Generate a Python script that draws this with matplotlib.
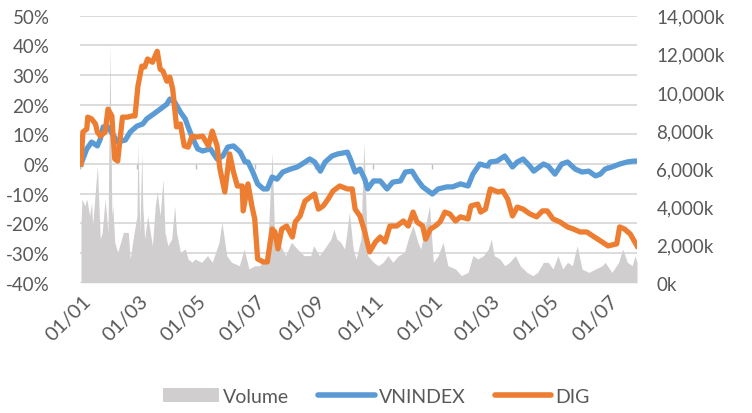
import matplotlib
matplotlib.use("Agg")
import matplotlib.pyplot as plt
import matplotlib.dates as mdates
from matplotlib.lines import Line2D
from matplotlib.patches import Patch
from matplotlib.ticker import FuncFormatter, MultipleLocator
from matplotlib.transforms import ScaledTranslation
import pandas as pd

plt.rcParams["font.family"] = ["Lato", "DejaVu Sans"]

TEXT = "#595959"
GRID = "#D9D9D9"
BLUE = "#5B9BD5"
ORANGE = "#ED7D31"
VOLGREY = "#D0CECE"
FS = 13.5

# VNINDEX, % change since start
vn_dates = [
    "2018-01-02", "2018-01-08", "2018-01-13", "2018-01-19", "2018-01-22", "2018-01-25",
    "2018-01-30", "2018-02-09", "2018-02-17", "2018-02-22", "2018-03-01", "2018-03-07",
    "2018-03-11", "2018-03-18", "2018-03-25", "2018-04-01", "2018-04-04", "2018-04-09",
    "2018-04-15", "2018-04-20", "2018-04-23", "2018-04-28", "2018-05-03", "2018-05-08",
    "2018-05-16", "2018-05-23", "2018-05-29", "2018-06-03", "2018-06-09", "2018-06-16",
    "2018-06-21", "2018-06-24", "2018-06-29", "2018-07-04", "2018-07-10", "2018-07-14",
    "2018-07-19", "2018-07-24", "2018-07-30", "2018-08-07", "2018-08-14", "2018-08-19",
    "2018-08-27", "2018-09-01", "2018-09-07", "2018-09-12", "2018-09-19", "2018-09-25",
    "2018-10-05", "2018-10-08", "2018-10-13", "2018-10-18", "2018-10-23", "2018-10-26",
    "2018-11-01", "2018-11-08", "2018-11-15", "2018-11-21", "2018-11-29", "2018-12-04",
    "2018-12-11", "2018-12-16", "2018-12-22", "2019-01-01", "2019-01-07", "2019-01-16",
    "2019-01-22", "2019-01-30", "2019-02-07", "2019-02-12", "2019-02-19", "2019-02-27",
    "2019-03-02", "2019-03-09", "2019-03-17", "2019-03-25", "2019-03-30", "2019-04-05",
    "2019-04-12", "2019-04-16", "2019-04-26", "2019-05-01", "2019-05-08", "2019-05-15",
    "2019-05-21", "2019-05-29", "2019-06-05", "2019-06-12", "2019-06-19", "2019-06-24",
    "2019-06-29", "2019-07-06", "2019-07-14", "2019-07-22", "2019-07-29", "2019-08-01",
]
vn_pct = [
    0.0, 5.1, 7.4, 6.1, 8.4, 12.5,
    12.5, 7.4, 8.1, 10.8, 12.8, 13.5,
    15.2, 16.8, 18.5, 20.2, 21.9, 20.9,
    17.5, 15.2, 12.5, 8.4, 5.1, 4.4,
    5.1, 1.7, 2.7, 5.7, 6.1, 4.0,
    0.7, 0.7, -2.7, -6.7, -8.4, -8.4,
    -4.4, -5.1, -2.7, -1.7, -1.0, 0.0,
    1.7, 0.7, -2.4, 0.7, 2.7, 3.4,
    4.0, 1.7, -2.7, -1.7, -5.1, -8.4,
    -5.7, -5.7, -8.4, -6.1, -5.7, -2.7,
    -2.4, -5.1, -7.7, -10.1, -8.4, -7.7,
    -7.7, -6.7, -7.4, -3.4, 0.0, -0.7,
    0.7, 1.0, 2.7, -1.0, 0.7, 1.7,
    -0.7, -2.4, 0.0, -0.7, -3.4, 0.0,
    0.7, -1.7, -2.7, -2.4, -4.0, -3.4,
    -1.7, -1.0, 0.0, 0.7, 1.0, 1.0,
]

# DIG, % change since start
dig_dates = [
    "2018-01-02", "2018-01-04", "2018-01-08", "2018-01-09", "2018-01-13", "2018-01-17",
    "2018-01-19", "2018-01-22", "2018-01-27", "2018-01-30", "2018-02-03", "2018-02-04",
    "2018-02-06", "2018-02-09", "2018-02-14", "2018-02-19", "2018-02-24", "2018-02-27",
    "2018-03-02", "2018-03-06", "2018-03-09", "2018-03-12", "2018-03-17", "2018-03-22",
    "2018-03-25", "2018-03-28", "2018-04-01", "2018-04-04", "2018-04-07", "2018-04-11",
    "2018-04-15", "2018-04-19", "2018-04-23", "2018-04-27", "2018-05-02", "2018-05-08",
    "2018-05-14", "2018-05-18", "2018-05-23", "2018-05-26", "2018-05-31", "2018-06-05",
    "2018-06-09", "2018-06-13", "2018-06-18", "2018-06-19", "2018-06-24", "2018-06-28",
    "2018-07-01", "2018-07-04", "2018-07-10", "2018-07-14", "2018-07-19", "2018-07-22",
    "2018-07-25", "2018-07-29", "2018-08-03", "2018-08-09", "2018-08-12", "2018-08-17",
    "2018-08-22", "2018-08-29", "2018-09-01", "2018-09-05", "2018-09-10", "2018-09-15",
    "2018-09-20", "2018-09-27", "2018-10-05", "2018-10-10", "2018-10-13", "2018-10-18",
    "2018-10-23", "2018-10-28", "2018-11-03", "2018-11-08", "2018-11-13", "2018-11-18",
    "2018-11-25", "2018-12-02", "2018-12-07", "2018-12-12", "2018-12-16", "2018-12-22",
    "2018-12-25", "2018-12-30", "2019-01-04", "2019-01-09", "2019-01-14", "2019-01-19",
    "2019-01-25", "2019-01-30", "2019-02-07", "2019-02-10", "2019-02-17", "2019-02-20",
    "2019-02-25", "2019-03-02", "2019-03-10", "2019-03-15", "2019-03-20", "2019-03-25",
    "2019-03-30", "2019-04-05", "2019-04-12", "2019-04-19", "2019-04-25", "2019-04-30",
    "2019-05-06", "2019-05-13", "2019-05-21", "2019-05-27", "2019-06-03", "2019-06-10",
    "2019-06-16", "2019-06-26", "2019-07-02", "2019-07-11", "2019-07-14", "2019-07-19",
    "2019-07-25", "2019-08-01",
]
dig_pct = [
    0.0, 10.8, 11.8, 15.8, 15.2, 13.5,
    10.8, 9.4, 10.8, 18.5, 16.2, 10.8,
    1.7, 1.0, 15.8, 15.8, 16.2, 16.2,
    26.3, 33.0, 32.7, 35.4, 34.3, 38.0,
    32.0, 31.3, 27.9, 29.3, 25.3, 12.5,
    13.5, 6.1, 5.7, 9.4, 9.1, 9.4,
    6.1, 11.1, 6.1, -1.7, -9.4, 3.4,
    -2.7, -7.4, -7.4, -15.8, -6.7, -14.1,
    -18.5, -32.0, -33.0, -33.0, -21.9, -22.9,
    -28.6, -21.9, -20.9, -24.6, -19.5, -17.5,
    -12.5, -10.8, -10.1, -15.2, -14.1, -11.8,
    -9.1, -7.4, -8.4, -8.4, -15.2, -17.5,
    -22.9, -29.6, -26.3, -24.6, -26.3, -20.9,
    -20.9, -19.2, -20.9, -16.2, -19.5, -20.9,
    -25.3, -21.9, -20.9, -19.5, -16.2, -16.8,
    -19.2, -17.8, -18.5, -14.1, -13.5, -16.2,
    -15.2, -8.4, -9.4, -9.1, -11.8, -17.5,
    -14.5, -15.2, -16.8, -17.8, -15.8, -15.8,
    -18.5, -19.5, -21.2, -21.9, -22.9, -22.9,
    -24.2, -26.3, -27.6, -26.9, -21.2, -21.9,
    -23.6, -27.6,
]

# DIG traded volume, thousand shares
vol_dates = [
    "2018-01-02", "2018-01-03", "2018-01-06", "2018-01-08", "2018-01-11", "2018-01-13",
    "2018-01-14", "2018-01-19", "2018-01-22", "2018-01-24", "2018-01-27", "2018-01-30",
    "2018-02-01", "2018-02-03", "2018-02-04", "2018-02-06", "2018-02-09", "2018-02-15",
    "2018-02-20", "2018-02-22", "2018-02-25", "2018-03-01", "2018-03-02", "2018-03-04",
    "2018-03-06", "2018-03-07", "2018-03-09", "2018-03-12", "2018-03-17", "2018-03-20",
    "2018-03-22", "2018-03-25", "2018-03-28", "2018-03-30", "2018-04-02", "2018-04-06",
    "2018-04-09", "2018-04-11", "2018-04-15", "2018-04-20", "2018-04-23", "2018-04-27",
    "2018-04-30", "2018-05-07", "2018-05-13", "2018-05-18", "2018-05-25", "2018-05-28",
    "2018-06-02", "2018-06-07", "2018-06-15", "2018-06-20", "2018-06-25", "2018-07-01",
    "2018-07-06", "2018-07-14", "2018-07-19", "2018-07-22", "2018-07-26", "2018-08-02",
    "2018-08-08", "2018-08-14", "2018-08-21", "2018-08-28", "2018-08-31", "2018-09-06",
    "2018-09-11", "2018-09-18", "2018-09-21", "2018-09-24", "2018-09-28", "2018-10-02",
    "2018-10-04", "2018-10-07", "2018-10-11", "2018-10-14", "2018-10-19", "2018-10-22",
    "2018-10-26", "2018-11-01", "2018-11-06", "2018-11-11", "2018-11-16", "2018-11-21",
    "2018-11-27", "2018-12-03", "2018-12-08", "2018-12-12", "2018-12-17", "2018-12-20",
    "2018-12-29", "2019-01-02", "2019-01-07", "2019-01-12", "2019-01-17", "2019-01-25",
    "2019-01-31", "2019-02-07", "2019-02-12", "2019-02-17", "2019-02-23", "2019-02-28",
    "2019-03-03", "2019-03-06", "2019-03-12", "2019-03-17", "2019-03-22", "2019-03-28",
    "2019-04-02", "2019-04-09", "2019-04-15", "2019-04-20", "2019-04-26", "2019-05-01",
    "2019-05-06", "2019-05-11", "2019-05-16", "2019-05-21", "2019-05-26", "2019-05-31",
    "2019-06-05", "2019-06-12", "2019-06-19", "2019-06-26", "2019-06-29", "2019-07-06",
    "2019-07-13", "2019-07-17", "2019-07-22", "2019-07-27", "2019-07-30", "2019-08-01",
]
vol_k = [
    3000, 4390, 4030, 4390, 3510, 4210,
    2990, 6130, 2290, 2640, 4390, 2640,
    12420, 3510, 4030, 2120, 1590, 2640,
    2640, 1240, 2290, 3510, 7360, 2640,
    6830, 4030, 2290, 3510, 1940, 4030,
    4740, 3510, 5430, 2640, 1940, 2290,
    4030, 2640, 1590, 1770, 1240, 1070,
    1240, 1070, 1420, 1070, 2120, 3160,
    1420, 1070, 890, 1770, 720, 890,
    890, 1420, 6830, 1770, 2120, 1420,
    2120, 1770, 1420, 1420, 1940, 1420,
    1770, 2290, 2810, 2290, 2120, 1770,
    2460, 3690, 1770, 1240, 2290, 7360,
    1420, 1070, 890, 1070, 1420, 1070,
    1420, 1590, 2460, 2990, 2120, 1770,
    4030, 1070, 1420, 2120, 890, 720,
    370, 540, 1420, 1240, 1420, 1770,
    2290, 1420, 1240, 890, 1070, 1420,
    890, 540, 370, 540, 1070, 1070,
    720, 1420, 720, 1070, 890, 1940,
    720, 540, 720, 890, 1070, 540,
    1070, 1770, 1070, 890, 1420, 1070,
]

vn_x = pd.to_datetime(vn_dates)
dig_x = pd.to_datetime(dig_dates)
vol_x = pd.to_datetime(vol_dates)

fig = plt.figure(figsize=(7.52, 4.14), dpi=100)
ax = fig.add_axes([0.1064, 0.3147, 0.7407, 0.645])
ax2 = ax.twinx()
ax3 = ax.twinx()

x0, x1 = pd.Timestamp("2018-01-01"), pd.Timestamp("2019-08-01")

# percent axis with gridlines (bottom layer)
ax.set_xlim(x0, x1)
ax.set_ylim(-40, 50)
ax.yaxis.set_major_locator(MultipleLocator(10))
ax.yaxis.set_major_formatter(FuncFormatter(lambda v, p: f"{int(round(v))}%"))
ax.grid(axis="y", color=GRID, lw=1.3)
ax.set_axisbelow(True)
for s in ax.spines.values():
    s.set_visible(False)
ax.tick_params(axis="y", length=0, pad=22, labelsize=FS, labelcolor=TEXT)

tick_dates = pd.date_range("2018-01-01", "2019-07-01", freq="2MS")
ax.set_xticks(tick_dates)
ax.xaxis.set_major_formatter(mdates.DateFormatter("%d/%m"))
ax.tick_params(axis="x", length=0, pad=11, labelsize=FS + 1, labelcolor=TEXT)
shift = ScaledTranslation(8 / 100, 0, fig.dpi_scale_trans)
for lab in ax.get_xticklabels():
    lab.set_rotation(45)
    lab.set_ha("right")
    lab.set_va("center")
    lab.set_rotation_mode("anchor")
    lab.set_transform(lab.get_transform() + shift)

# volume on the right axis
ax2.fill_between(vol_x, 0, vol_k, color=VOLGREY, lw=0)
ax2.set_ylim(0, 14000)
ax2.yaxis.set_major_locator(MultipleLocator(2000))
ax2.yaxis.set_major_formatter(FuncFormatter(lambda v, p: f"{int(v):,}k"))
for s in ax2.spines.values():
    s.set_visible(False)
ax2.tick_params(axis="y", length=0, pad=14, labelsize=FS, labelcolor=TEXT)

# price lines on top
ax3.set_ylim(-40, 50)
ax3.vlines(tick_dates, -1.8, 0, color="#BFBFBF", lw=1.0)
ax3.plot(vn_x, vn_pct, color=BLUE, lw=3.8, solid_joinstyle="round")
ax3.plot(dig_x, dig_pct, color=ORANGE, lw=3.8, solid_joinstyle="round")
ax3.set_yticks([])
for s in ax3.spines.values():
    s.set_visible(False)
ax3.set_xlim(x0, x1)

handles = [
    Patch(facecolor=VOLGREY, edgecolor="none"),
    Line2D([], [], color=BLUE, lw=4, solid_capstyle="round"),
    Line2D([], [], color=ORANGE, lw=4, solid_capstyle="round"),
]
fig.legend(handles, ["Volume", "VNINDEX", "DIG"], loc="center",
           bbox_to_anchor=(0.5, 0.04), ncol=3, frameon=False,
           fontsize=FS + 0.5, labelcolor=TEXT, handlelength=2.9,
           handletextpad=0.2, columnspacing=1.5)

fig.savefig("out.png", dpi=100, facecolor="white")
